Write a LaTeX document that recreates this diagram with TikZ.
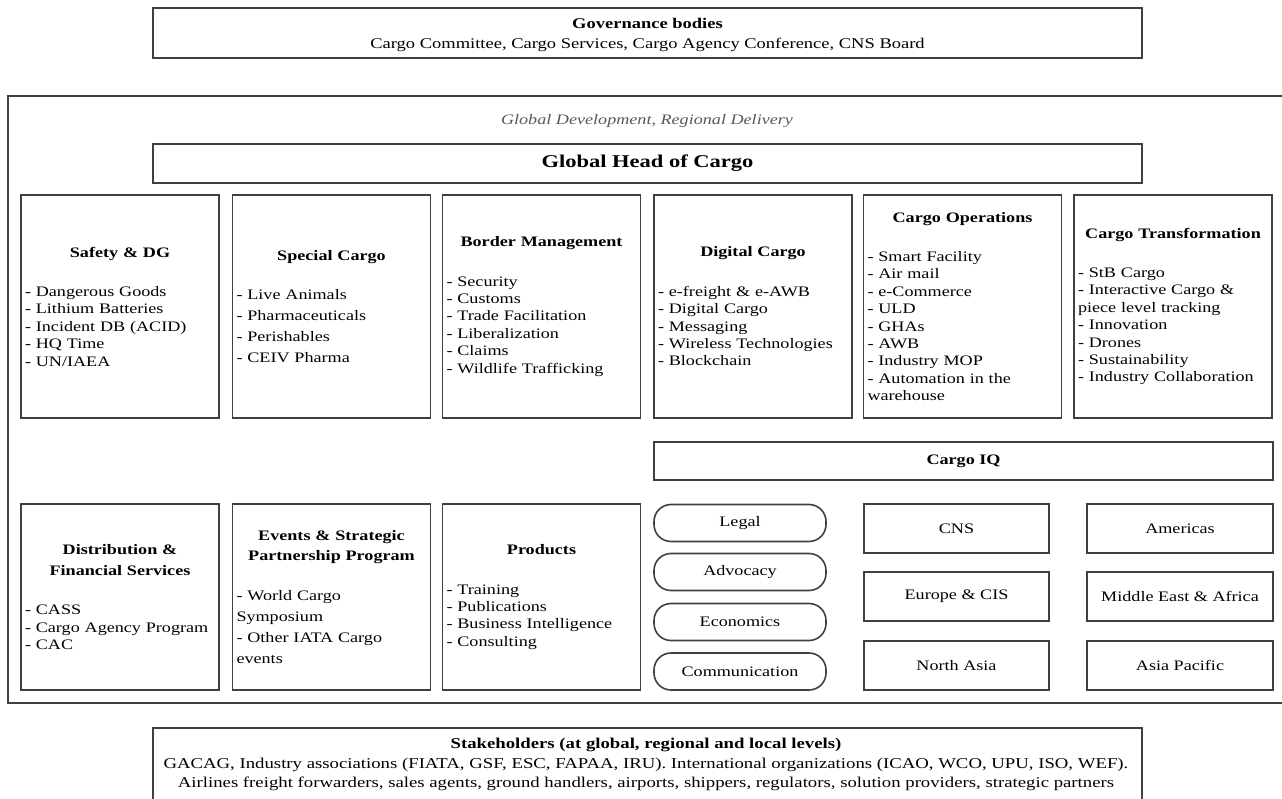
\documentclass[tikz,border=0pt]{standalone}
\usepackage{fontspec}
\setmainfont{Liberation Serif}[FakeStretch=1.25]
\usetikzlibrary{positioning}
\newcommand{\unithead}[1]{{\centering\bfseries #1\par}\vspace{22pt}}

\begin{document}
\begin{tikzpicture}[x=1pt,y=-1pt,
      every node/.style={font=\fontsize{14.5}{17.4}\selectfont},
      frame/.style={draw=black!75,line width=1.6pt},
      unit/.style={frame,minimum width=198pt,text width=190pt,align=left,inner xsep=4pt,inner ysep=0pt},
      oval/.style={frame,rounded corners=17pt,minimum width=172pt,minimum height=37pt},
      region/.style={frame,minimum width=185pt,minimum height=49pt}]
    \useasboundingbox (0,0) rectangle (1282,799);
    \node[frame,anchor=north west,minimum width=1290pt,minimum height=607pt] (cargo) at (7,95) {};
    \node[frame,minimum width=989pt,minimum height=50pt,align=center,text depth=0pt,
          font=\fontsize{14.8}{20}\selectfont] (governance) at (647.5,33)
         {\textbf{Governance bodies}\\Cargo Committee, Cargo Services, Cargo Agency Conference, CNS Board};
    \node[text=black!65,font=\fontsize{14.5}{17.4}\selectfont\itshape] (motto) at (647,121.5)
         {Global Development, Regional Delivery};
    \node[frame,minimum width=989pt,minimum height=39pt,
          font=\fontsize{18}{21}\selectfont\bfseries] (head) at (647.5,163.5) {Global Head of Cargo};
    \node[unit,minimum height=223pt] (safety) at (120,306.5)
         {\unithead{Safety \& DG}- Dangerous Goods\\- Lithium Batteries\\- Incident DB (ACID)\\- HQ Time\\- UN/IAEA};
    \node[unit,minimum height=223pt] (special) at (331.5,306.5)
         {\unithead{Special Cargo}- Live Animals\\[3.6pt]- Pharmaceuticals\\[3.6pt]- Perishables\\[3.6pt]- CEIV Pharma};
    \node[unit,minimum height=223pt] (border) at (541.5,306.5)
         {\unithead{Border Management}- Security\\- Customs\\- Trade Facilitation\\- Liberalization\\- Claims\\- Wildlife Trafficking};
    \node[unit,minimum height=223pt] (digital) at (753,306.5)
         {\unithead{Digital Cargo}- e-freight \& e-AWB\\- Digital Cargo\\- Messaging\\- Wireless Technologies\\- Blockchain};
    \node[unit,minimum height=223pt] (operations) at (962.5,306.5)
         {\unithead{Cargo Operations}- Smart Facility\\- Air mail\\- e-Commerce\\- ULD\\- GHAs\\- AWB\\- Industry MOP\\- Automation in the\\warehouse};
    \node[unit,minimum height=223pt] (transformation) at (1173,306.5)
         {\unithead{Cargo Transformation}- StB Cargo\\- Interactive Cargo \&\\piece level tracking\\- Innovation\\- Drones\\- Sustainability\\- Industry Collaboration};
    \node[frame,minimum width=619pt,minimum height=38pt,font=\fontsize{14.5}{17.4}\selectfont\bfseries] (cargoiq) at (963.5,461) {Cargo IQ};
    \node[unit,minimum height=186pt] (distribution) at (120,597)
         {\unithead{Distribution \&\\[3.6pt]Financial Services}- CASS\\- Cargo Agency Program\\- CAC};
    \node[unit,minimum height=186pt] (events) at (331.5,597)
         {\unithead{Events \& Strategic\\[3pt]Partnership Program}- World Cargo\\[3.6pt]Symposium\\[3.6pt]- Other IATA Cargo\\[3.6pt]events};
    \node[unit,minimum height=186pt] (products) at (541.5,597)
         {\unithead{Products}- Training\\- Publications\\- Business Intelligence\\- Consulting};
    \node[oval] (legal) at (740,523) {Legal};
    \node[oval] (advocacy) at (740,572) {Advocacy};
    \node[oval] (economics) at (740,622) {Economics};
    \node[oval] (communication) at (740,671.5) {Communication};
    \node[region] (cns) at (956.5,528.5) {CNS};
    \node[region] (europe) at (956.5,596.5) {Europe \& CIS};
    \node[region] (northasia) at (956.5,665.5) {North Asia};
    \node[region,minimum width=186pt] (americas) at (1180,528.5) {Americas};
    \node[region,minimum width=186pt] (mea) at (1180,596.5) {Middle East \& Africa};
    \node[region,minimum width=186pt] (asiapacific) at (1180,665.5) {Asia Pacific};
    \node[frame,anchor=north,minimum width=989pt,minimum height=90pt] (stakeholders) at (647.5,727) {};
    \node[anchor=north,align=center,inner sep=0pt,font=\fontsize{15}{19.5}\selectfont] (stakeholderstext) at (646,738)
         {\textbf{Stakeholders (at global, regional and local levels)}\\
          GACAG, Industry associations (FIATA, GSF, ESC, FAPAA, IRU). International organizations (ICAO, WCO, UPU, ISO, WEF).\\
          Airlines freight forwarders, sales agents, ground handlers, airports, shippers, regulators, solution providers, strategic partners};
\end{tikzpicture}
\end{document}
